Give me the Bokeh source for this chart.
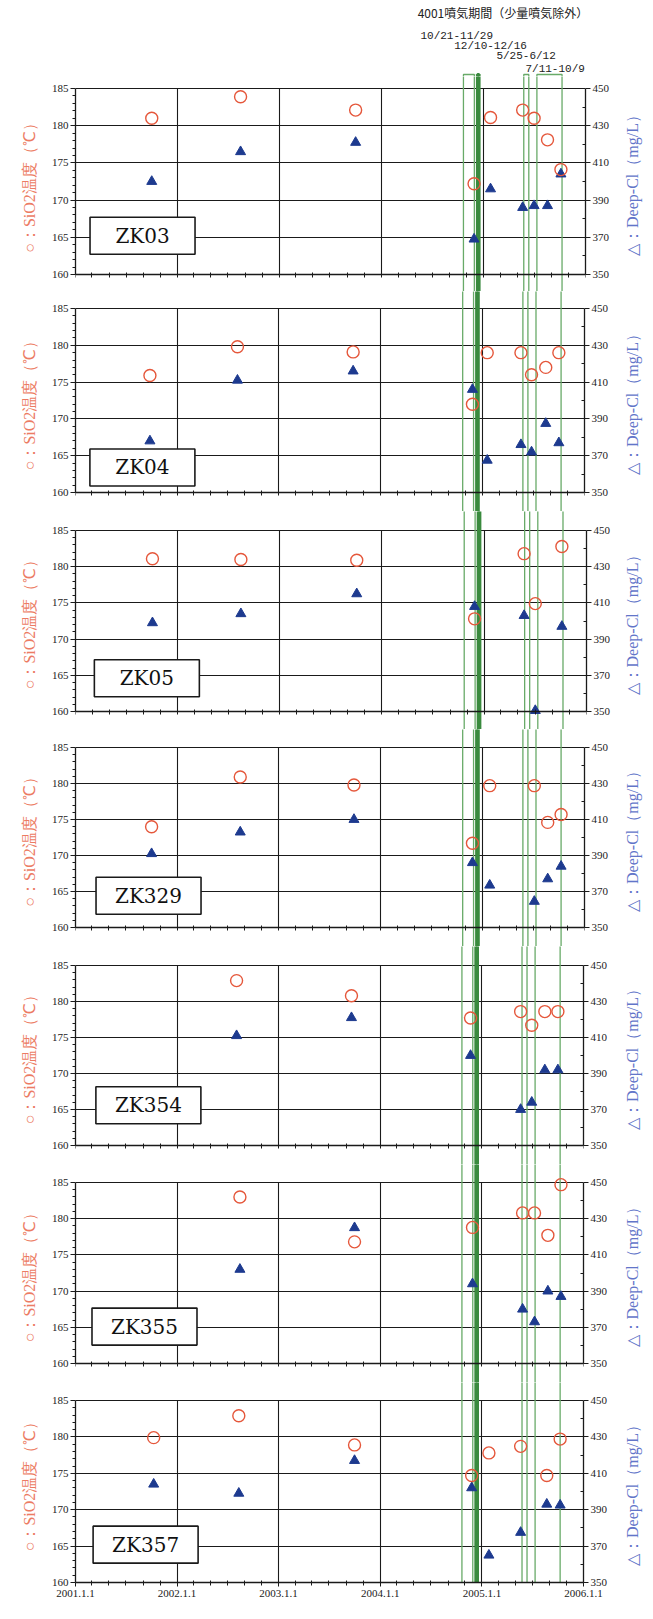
import math
import pandas as pd
from bokeh.plotting import figure
from bokeh.layouts import column, row
from bokeh.models import (Range1d, LinearAxis, FixedTicker, DatetimeTickFormatter,
                          ColumnDataSource)
from bokeh.core.properties import value
from bokeh.embed import file_html
from bokeh.resources import INLINE

# ---------------- data ----------------
wells = ["ZK03", "ZK04", "ZK05", "ZK329", "ZK354", "ZK355", "ZK357"]

zk03_dates = ["2001-10-01", "2002-08-15", "2003-10-01", "2004-11-28", "2005-01-26",
              "2005-05-21", "2005-07-01", "2005-08-18", "2005-10-05"]
zk03_sio2 = [181.0, 183.9, 182.1, 172.2, 181.1, 182.1, 181.0, 178.1, 174.1]
zk03_cl = [400, 416, 421, 369, 396, 386, 387, 387, 404]

zk04_dates = ["2001-09-25", "2002-08-05", "2003-09-24", "2004-11-25", "2005-01-17",
              "2005-05-18", "2005-06-25", "2005-08-15", "2005-10-01"]
zk04_sio2 = [175.9, 179.8, 179.1, 172.0, 179.0, 179.0, 176.0, 177.0, 179.0]
zk04_cl = [378, 411, 416, 406, 367.5, 376, 372, 387.5, 377]

zk05_dates = ["2001-10-03", "2002-08-15", "2003-10-03", "2004-11-27", "2005-05-23",
              "2005-07-02", "2005-10-05"]
zk05_sio2 = [181.1, 181.0, 180.9, 172.8, 181.8, 174.9, 182.8]
zk05_cl = [399, 404, 415, 408, 403, 350.5, 397]

zk329_dates = ["2001-10-01", "2002-08-15", "2003-09-27", "2004-11-25", "2005-01-26",
               "2005-07-05", "2005-08-22", "2005-10-09"]
zk329_sio2 = [174.0, 180.9, 179.8, 171.7, 179.7, 179.7, 174.6, 175.7]
zk329_cl = [391, 403, 410, 386, 373.5, 364.5, 377, 384]

zk354_dates = ["2002-08-03", "2003-09-20", "2004-11-21", "2005-05-20", "2005-06-29",
               "2005-08-15", "2005-10-01"]
zk354_sio2 = [182.9, 180.8, 177.7, 178.6, 176.7, 178.6, 178.6]
zk354_cl = [411, 421, 400, 370, 374, 392, 392]

zk355_dates = ["2002-08-15", "2003-10-01", "2004-11-28", "2005-05-27", "2005-07-09",
               "2005-08-26", "2005-10-12"]
zk355_sio2 = [183.0, 176.8, 178.8, 180.8, 180.8, 177.7, 184.7]
zk355_cl = [402, 425, 394, 380, 373, 390, 387]

zk357_dates = ["2001-10-09", "2002-08-11", "2003-10-01", "2004-11-25", "2005-01-26",
               "2005-05-20", "2005-08-22", "2005-10-09"]
zk357_sio2 = [179.9, 182.9, 178.9, 174.7, 177.8, 178.7, 174.7, 179.7]
zk357_cl = [404, 399, 417, 402, 365, 377.5, 393, 392.5]

series = [
    (zk03_dates, zk03_sio2, zk03_cl),
    (zk04_dates, zk04_sio2, zk04_cl),
    (zk05_dates, zk05_sio2, zk05_cl),
    (zk329_dates, zk329_sio2, zk329_cl),
    (zk354_dates, zk354_sio2, zk354_cl),
    (zk355_dates, zk355_sio2, zk355_cl),
    (zk357_dates, zk357_sio2, zk357_cl),
]

period_starts = ["2004-10-21", "2004-12-10", "2005-05-25", "2005-07-11"]
period_ends = ["2004-11-29", "2004-12-16", "2005-06-12", "2005-10-09"]
period_labels = ["10/21-11/29", "12/10-12/16", "5/25-6/12", "7/11-10/9"]
period_solid = [False, True, False, False]
header_title = "4001噴気期間（少量噴気除外）"

year_ticks = [2001, 2002, 2003, 2004, 2005, 2006]
minor_months = [3, 5, 7, 9, 11]
sio2_ticks = [160, 165, 170, 175, 180, 185]
cl_ticks = [350, 370, 390, 410, 430, 450]

left_label = "○：SiO2温度（℃）"
right_label = "△：Deep-Cl（mg/L）"

# ---------------- layout (page pixels, from the scan) ----------------
PANEL_TOP = [96, 316, 538, 755, 973, 1190, 1408]
PANEL_BOT = [282, 500, 719, 935, 1153, 1371, 1590]
PANEL_LEFT = [83, 83, 79, 79, 77, 75, 74]
PANEL_RIGHT = [593, 592, 590, 588, 585, 583, 582]
FIG_EDGES = [84, 299, 519, 737, 954, 1172, 1390, 1590]
PAGE_TOP = 8
PAGE_BOTTOM = 1610
COLUMN_RIGHT = 629
SIDE_WIDTH = 22
HEADER_EXTRA = 14
LABEL_POS_X = ["2001-08-29", "2001-08-29", "2001-09-13", "2001-09-20", "2001-09-20", "2001-09-06", "2001-09-10"]
LABEL_POS_Y = [165.2, 163.4, 164.6, 164.4, 165.6, 165.1, 165.2]

CIRCLE_COLOR = "#e5573b"
TRI_COLOR = "#1d3a8f"
GREEN = "#68aa68"
DARK_GREEN = "#3a8a3e"
INK = "#1a1a1a"


def ms(d):
    return pd.Timestamp(d).value / 1e6


x_major = [ms(f"{y}-01-01") for y in year_ticks]
x_minor = [ms(f"{y}-{m:02d}-01") for y in year_ticks[:-1] for m in minor_months]
xr = Range1d(start=x_major[0], end=x_major[-1])

ps = [pd.Timestamp(d) for d in period_starts]
pe = [pd.Timestamp(d) for d in period_ends]


def add_periods(p, bottom, top):
    for s, e, solid in zip(ps, pe, period_solid):
        if solid:
            p.quad(left=[s], right=[e], bottom=[bottom], top=[top],
                   fill_color=DARK_GREEN, line_color=DARK_GREEN, line_width=3)
        else:
            p.quad(left=[s], right=[e], bottom=[bottom], top=[top],
                   fill_color=None, line_color=GREEN, line_width=1.3)


# ---------------- header ----------------
hw = PANEL_RIGHT[0] - PANEL_LEFT[0]
hh = FIG_EDGES[0] - PAGE_TOP
span = x_major[-1] - x_major[0]
hxr = Range1d(start=x_major[0], end=x_major[-1] + span * HEADER_EXTRA / hw)
header = figure(x_axis_type="datetime", x_range=hxr, y_range=Range1d(0, hh),
                frame_width=hw + HEADER_EXTRA, frame_height=hh,
                min_border_left=PANEL_LEFT[0] - 8, min_border_right=0,
                min_border_top=0, min_border_bottom=0,
                x_axis_location=None, y_axis_location=None,
                output_backend="svg", toolbar_location=None, outline_line_color=None)
header.grid.visible = False
add_periods(header, -10, FIG_EDGES[0] - 82)
header.text(x=[pd.Timestamp("2004-05-10")], y=[FIG_EDGES[0] - 20], text=[header_title],
            text_font=value("Noto Sans CJK JP"), text_font_size="12px", text_color="#222222",
            text_align="left", text_baseline="middle")
lab_x = [pd.Timestamp(d) for d in ["2004-05-20", "2004-09-18", "2005-02-16", "2005-05-31"]]
lab_y = [FIG_EDGES[0] - v for v in [43, 53, 63, 76]]
header.text(x=lab_x, y=lab_y, text=period_labels,
            text_font=value("Liberation Mono"), text_font_size="11px", text_color="#222222",
            text_align="left", text_baseline="middle")

figs = [header]
n = len(wells)

for i, (name, (dates, sio2, cl)) in enumerate(zip(wells, series)):
    last = (i == n - 1)
    T, B = PANEL_TOP[i], PANEL_BOT[i]
    ft, fb = FIG_EDGES[i], FIG_EDGES[i + 1]
    s = (B - T) / 25.0
    y0 = 160 - (fb - B) / s
    y1 = 185 + (T - ft) / s
    fw = PANEL_RIGHT[i] - PANEL_LEFT[i]
    p = figure(x_axis_type="datetime", x_range=xr, y_range=Range1d(y0, y1),
               frame_width=fw, frame_height=fb - ft,
               min_border_left=PANEL_LEFT[i] - 8, min_border_right=COLUMN_RIGHT - PANEL_RIGHT[i],
               min_border_top=0, min_border_bottom=0,
               output_backend="svg", toolbar_location=None, outline_line_color=None,
               background_fill_color="white", border_fill_color="white")
    p.extra_y_ranges = {"cl": Range1d(350 + (y0 - 160) * 4, 350 + (y1 - 160) * 4)}

    grid_ticker = FixedTicker(ticks=x_major)
    if last:
        xticker = FixedTicker(ticks=x_major, minor_ticks=x_minor)
    else:
        xticker = FixedTicker(ticks=[], minor_ticks=x_minor + x_major)
    yticker = FixedTicker(ticks=sio2_ticks, minor_ticks=[v for v in range(161, 185) if v % 5])
    clticker = FixedTicker(ticks=cl_ticks, minor_ticks=[360, 380, 400, 420, 440])

    xa = p.xaxis[0]
    xa.ticker = xticker
    if not last:
        xa.fixed_location = 160
    xa.formatter = DatetimeTickFormatter(years="%Y.1.1", months="%Y.1.1", days="%Y.1.1",
                                         hours="%Y.1.1", minutes="%Y.1.1")
    xa.axis_line_color = INK
    xa.axis_line_width = 1.5
    xa.major_tick_in = 0
    xa.major_tick_out = 4
    xa.minor_tick_in = 2
    xa.minor_tick_out = 3
    xa.major_tick_line_color = INK
    xa.minor_tick_line_color = INK
    xa.major_label_standoff = 3
    xa.major_label_text_font = "Liberation Serif"
    xa.major_label_text_color = "#222222"
    xa.major_label_text_font_size = "11px"

    ya = p.yaxis[0]
    ya.ticker = yticker
    ya.bounds = (160, 185)
    ya.axis_line_color = INK
    ya.axis_line_width = 1.3
    ya.major_tick_in = 0
    ya.major_tick_out = 5
    ya.minor_tick_in = 0
    ya.minor_tick_out = 3
    ya.major_tick_line_color = INK
    ya.minor_tick_line_color = INK
    ya.major_label_standoff = 2
    ya.major_label_text_font = "Liberation Serif"
    ya.major_label_text_font_size = "11px"
    ya.major_label_text_color = "#222222"
    ya.axis_label = left_label
    ya.axis_label_text_font = "Liberation Serif"
    ya.axis_label_text_font_size = "16px"
    ya.axis_label_text_font_style = "normal"
    ya.axis_label_text_color = "#ec7b63"
    ya.axis_label_standoff = 11

    ra = LinearAxis(y_range_name="cl", ticker=clticker, bounds=(350, 450))
    ra.axis_line_color = INK
    ra.axis_line_width = 1.3
    ra.major_tick_in = 0
    ra.major_tick_out = 5
    ra.minor_tick_in = 3
    ra.minor_tick_out = 0
    ra.major_tick_line_color = INK
    ra.minor_tick_line_color = INK
    ra.major_label_standoff = 2
    ra.major_label_text_font = "Liberation Serif"
    ra.major_label_text_font_size = "11px"
    ra.major_label_text_color = "#222222"
    p.add_layout(ra, "right")

    p.xgrid.ticker = grid_ticker
    p.ygrid.ticker = yticker
    p.grid.grid_line_color = INK
    p.grid.grid_line_width = 1.1
    p.grid.grid_line_alpha = 1.0
    grid_ok = True
    try:
        p.xgrid[0].cross_bounds = (160, 185)
    except Exception:
        grid_ok = False
    if not grid_ok:
        p.xgrid.visible = False
        gx = [pd.Timestamp(f"{y}-01-01") for y in year_ticks[1:-1]]
        p.segment(x0=gx, x1=gx, y0=[160] * len(gx), y1=[185] * len(gx),
                  line_color=INK, line_width=1.1)

    add_periods(p, y0 - 10, y1 + 10)

    src = ColumnDataSource(dict(date=[pd.Timestamp(d) for d in dates], sio2=sio2, cl=cl))
    p.scatter(x="date", y="cl", source=src, marker="triangle", size=10,
              fill_color=TRI_COLOR, line_color=TRI_COLOR, y_range_name="cl")
    p.scatter(x="date", y="sio2", source=src, marker="circle", size=12,
              fill_color=None, line_color=CIRCLE_COLOR, line_width=1.4)

    lx = [pd.Timestamp(LABEL_POS_X[i])]
    ly = [LABEL_POS_Y[i]]
    p.rect(x=lx, y=ly, width=105, height=37, width_units="screen", height_units="screen",
           fill_color="white", line_color=INK, line_width=1.6)
    p.text(x=lx, y=ly, text=[name], text_font=value("DejaVu Serif"), text_font_size="20px",
           text_color="#111111", text_align="center", text_baseline="middle")

    figs.append(p)

# ---------------- right-hand axis titles (one per panel, reading bottom-to-top) ----------------
side_h = PAGE_BOTTOM - PAGE_TOP
side = figure(x_range=Range1d(0, 1), y_range=Range1d(0, side_h),
              frame_width=SIDE_WIDTH, frame_height=side_h,
              min_border_left=0, min_border_right=0, min_border_top=0, min_border_bottom=0,
              x_axis_location=None, y_axis_location=None,
              output_backend="svg", toolbar_location=None, outline_line_color=None)
side.grid.visible = False
centers = [PAGE_BOTTOM - (t + b) / 2.0 for t, b in zip(PANEL_TOP, PANEL_BOT)]
side.text(x=[0.5] * n, y=centers, text=[right_label] * n, angle=math.pi / 2,
          text_font=value("Liberation Serif"), text_font_size="16px", text_color="#6275c9",
          text_align="center", text_baseline="middle")

layout = row(column(*figs, spacing=0), side, spacing=0)
open("out.html", "w").write(file_html(layout, INLINE))
